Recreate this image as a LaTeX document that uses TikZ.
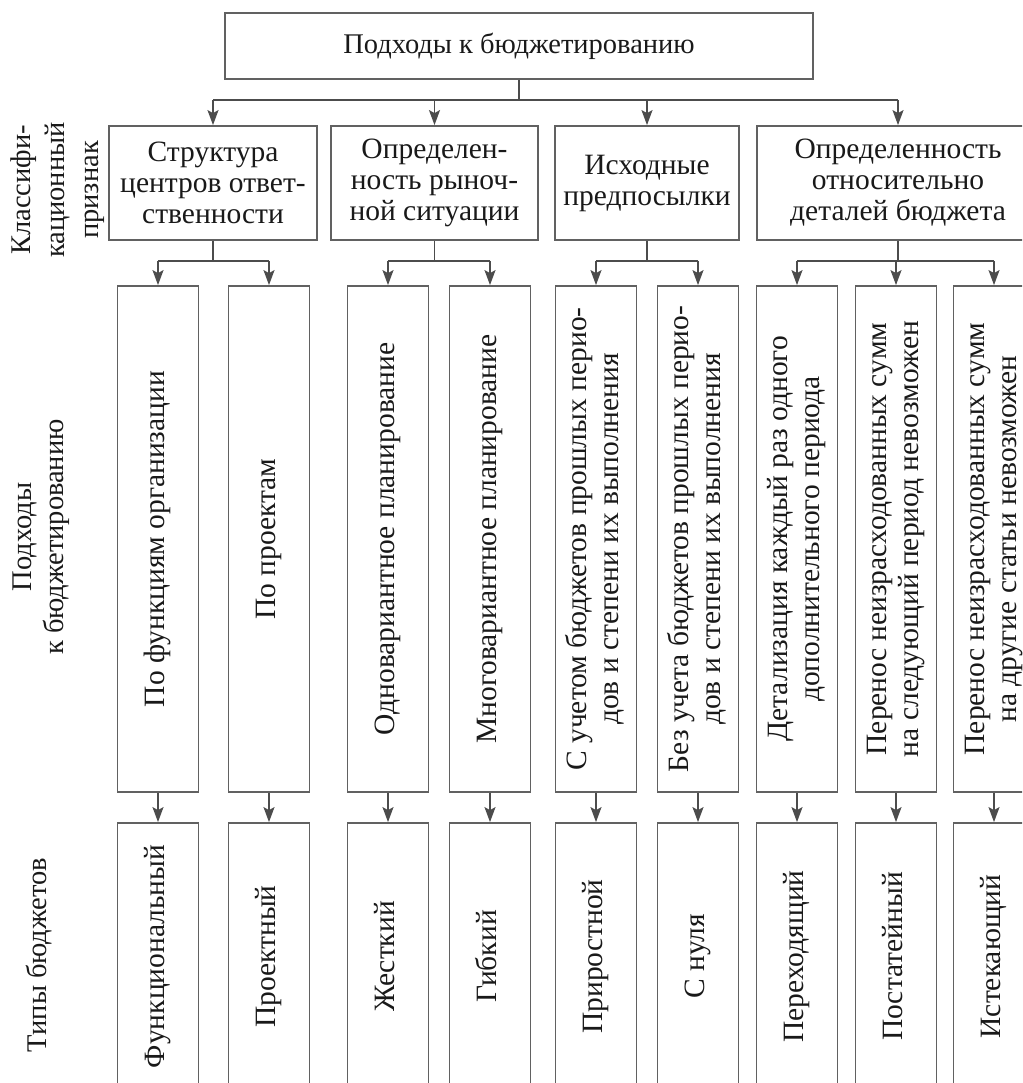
\documentclass[tikz,border=0pt]{standalone}
\usepackage{fontspec}
\setmainfont{Liberation Serif}
\usepackage{graphicx}
\usetikzlibrary{arrows.meta,calc}
\newcommand\fs{\fontsize{28.5}{31}\selectfont}
\newcommand\fsb{\fontsize{29.5}{31}\selectfont}
\newcommand\fsc{\fontsize{29.5}{32.5}\selectfont}
\newcommand\vtext[1]{\rotatebox{90}{\begin{tabular}{@{}c@{}}#1\end{tabular}}}
\tikzset{
  box/.style={draw=black!62, line width=1.8pt, rectangle, inner sep=0pt, align=center, font=\fs, text=black!90},
  lbl/.style={inner sep=0pt, font=\fs, text=black!90},
  conn/.style={draw=black!70, line width=1.6pt},
  arr/.style={conn, -{Stealth[length=15pt,width=11pt,inset=3pt]}},
  catbox/.style={box, font=\fsb, minimum height=114pt},
  midbox/.style={box, font=\fsc, minimum width=81pt, minimum height=506pt},
  typebox/.style={box, font=\fsc, minimum width=81pt, minimum height=267pt},
}
\begin{document}
\begin{tikzpicture}[x=1pt,y=-1pt]
\useasboundingbox (0,0) rectangle (1022,1083);
\clip (0,0) rectangle (1022,1083);

% top
\node[box, minimum width=588pt, minimum height=66pt] (top) at (519,46) {Подходы к бюджетированию};

% level 2
\node[catbox, minimum width=208pt] (kA) at (213,183) {Структура\\центров ответ-\\ственности};
\node[catbox, minimum width=207pt] (kB) at (434.5,183) {Определен-\\ность рыноч-\\ной ситуации};
\node[catbox, minimum width=184pt] (kC) at (647,183) {Исходные\\предпосылки};
\node[catbox, minimum width=282pt] (kD) at (898,183) {Определенность\\относительно\\деталей бюджета};

% level 3
\node[midbox] (p1) at (158,539) {\vtext{По функциям организации}};
\node[midbox] (p2) at (269,539) {\vtext{По проектам}};
\node[midbox] (p3) at (388,539) {\vtext{Одновариантное планирование}};
\node[midbox] (p4) at (490,539) {\vtext{Многовариантное планирование}};
\node[midbox] (p5) at (596,539) {\vtext{С учетом бюджетов прошлых перио-\\дов и степени их выполнения}};
\node[midbox] (p6) at (698,539) {\vtext{Без учета бюджетов прошлых перио-\\дов и степени их выполнения}};
\node[midbox] (p7) at (797,539) {\vtext{Детализация каждый раз одного\\дополнительного периода}};
\node[midbox] (p8) at (896,539) {\vtext{Перенос неизрасходованных сумм\\на следующий период невозможен}};
\node[midbox] (p9) at (994,539) {\vtext{Перенос неизрасходованных сумм\\на другие статьи невозможен}};

% level 4
\node[typebox] (t1) at (158,956.5) {\vtext{Функциональный}};
\node[typebox] (t2) at (269,956.5) {\vtext{Проектный}};
\node[typebox] (t3) at (388,956.5) {\vtext{Жесткий}};
\node[typebox] (t4) at (490,956.5) {\vtext{Гибкий}};
\node[typebox] (t5) at (596,956.5) {\vtext{Приростной}};
\node[typebox] (t6) at (698,956.5) {\vtext{С нуля}};
\node[typebox] (t7) at (797,956.5) {\vtext{Переходящий}};
\node[typebox] (t8) at (896,956.5) {\vtext{Постатейный}};
\node[typebox] (t9) at (994,956.5) {\vtext{Истекающий}};

% left labels
\node[lbl, font=\fontsize{28.5}{34}\selectfont] (lab1) at (58,190) {\vtext{Классифи-\\кационный\\признак}};
\node[lbl, font=\fontsize{28.5}{32}\selectfont] (lab2) at (41,537) {\vtext{Подходы\\к бюджетированию}};
\node[lbl] (lab3) at (40,955) {\vtext{Типы бюджетов}};

% connectors top -> level 2
\coordinate (b0) at ($(top.south)+(0,20)$);
\draw[conn] (top.south) -- (b0);
\draw[conn] (kA.north |- b0) -- (kD.north |- b0);
\foreach \n in {kA,kB,kC,kD} \draw[arr] (\n.north |- b0) -- (\n.north);

% level 2 -> level 3
\coordinate (bA) at ($(kA.south)+(0,20)$);
\coordinate (bB) at ($(kB.south)+(0,20)$);
\coordinate (bC) at ($(kC.south)+(0,20)$);
\coordinate (bD) at ($(kD.south)+(0,20)$);
\draw[conn] (kA.south) -- (bA);
\draw[conn] (kB.south) -- (bB);
\draw[conn] (kC.south) -- (bC);
\draw[conn] (kD.south) -- (bD);
\draw[conn] (p1.north |- bA) -- (p2.north |- bA);
\draw[conn] (p3.north |- bB) -- (p4.north |- bB);
\draw[conn] (p5.north |- bC) -- (p6.north |- bC);
\draw[conn] (p7.north |- bD) -- (p9.north |- bD);
\foreach \n in {p1,p2} \draw[arr] (\n.north |- bA) -- (\n.north);
\foreach \n in {p3,p4} \draw[arr] (\n.north |- bB) -- (\n.north);
\foreach \n in {p5,p6} \draw[arr] (\n.north |- bC) -- (\n.north);
\foreach \n in {p7,p8,p9} \draw[arr] (\n.north |- bD) -- (\n.north);

% level 3 -> level 4
\foreach \i in {1,...,9} \draw[arr] (p\i.south) -- (t\i.north);
\end{tikzpicture}
\end{document}
